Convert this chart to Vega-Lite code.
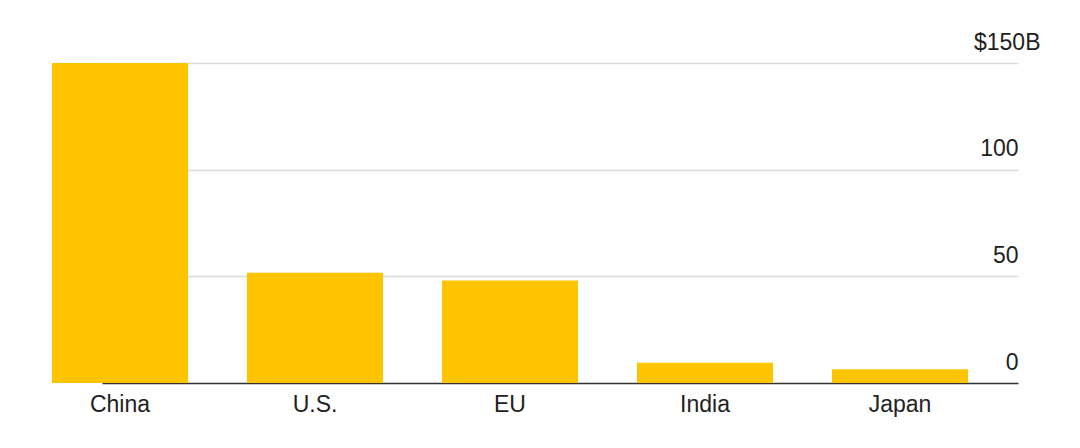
{
  "$schema": "https://vega.github.io/schema/vega-lite/v6.json",
  "autosize": "none",
  "padding": {"left": 52, "top": 63, "right": 62, "bottom": 65},
  "width": 966,
  "height": 320,
  "background": "white",
  "config": {"view": {"stroke": null}, "font": "Liberation Sans"},
  "data": {"values": [
    {"region": "China", "value": 150},
    {"region": "U.S.", "value": 51.7},
    {"region": "EU", "value": 48},
    {"region": "India", "value": 9.5},
    {"region": "Japan", "value": 6.4}
  ]},
  "mark": {"type": "bar", "color": "#FFC400"},
  "encoding": {
    "x": {
      "field": "region", "type": "nominal", "sort": null, "title": null,
      "scale": {"range": [0, 916], "paddingInner": 0.3026, "paddingOuter": 0},
      "axis": {"domain": false, "ticks": false, "labelAngle": 0, "labelFontSize": 23, "labelColor": "#222", "labelPadding": 10, "labelFont": "Liberation Sans"}
    },
    "y": {
      "field": "value", "type": "quantitative", "title": null,
      "scale": {"domain": [0, 150], "nice": false},
      "axis": {
        "orient": "right", "values": [0, 50, 100, 150], "domain": false, "ticks": false, "tickSize": 0,
        "grid": true, "gridColor": {"condition": {"test": "datum.value == 0", "value": "#333"}, "value": "#dcdcdc"},
        "gridWidth": 1.5,
        "labelExpr": "datum.value == 150 ? '$150B' : datum.label",
        "labelAlign": "right", "labelBaseline": "alphabetic", "labelOffset": -14,
        "labelPadding": {"condition": {"test": "datum.value == 150", "value": 22}, "value": 0},
        "labelFontSize": 23, "labelColor": "#222", "labelFont": "Liberation Sans"
      }
    }
  }
}
